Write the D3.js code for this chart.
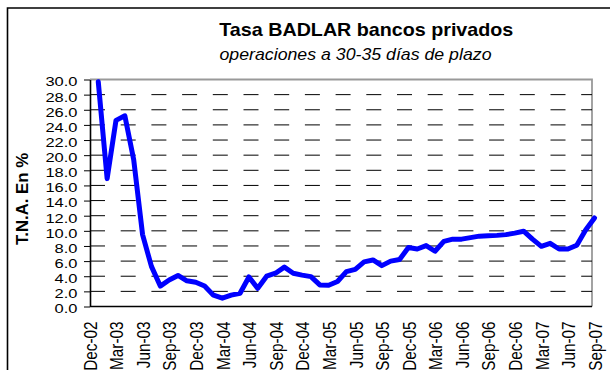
<!DOCTYPE html>
<html>
<head>
<meta charset="utf-8">
<script src="https://cdn.jsdelivr.net/npm/d3@7"></script>
<style>
  html, body { margin: 0; padding: 0; background: #fff; }
  svg { display: block; }
  text { font-family: "Liberation Sans", Arial, sans-serif; fill: #000; }
</style>
</head>
<body>
<svg id="chart" width="610" height="370"></svg>
<script>
// Monthly BADLAR rate (private banks), % TNA, Jan-03 .. Sep-07
const rates = [29.7, 16.9, 24.6, 25.2, 19.4, 9.5, 5.3, 2.7, 3.5, 4.1,
               3.4, 3.2, 2.7, 1.5, 1.1, 1.5, 1.75, 3.9, 2.4, 4.0,
               4.4, 5.2, 4.4, 4.15, 3.95, 2.85, 2.8, 3.3, 4.6, 4.9,
               5.9, 6.15, 5.4, 6.0, 6.2, 7.8, 7.6, 8.05, 7.3, 8.6,
               8.9, 8.9, 9.1, 9.3, 9.35, 9.4, 9.5, 9.7, 9.95, 8.9,
               7.95, 8.35, 7.6, 7.6, 8.1, 10.1, 11.7];
const tickLabels = ["Dec-02","Mar-03","Jun-03","Sep-03","Dec-03","Mar-04","Jun-04",
                    "Sep-04","Dec-04","Mar-05","Jun-05","Sep-05","Dec-05","Mar-06",
                    "Jun-06","Sep-06","Dec-06","Mar-07","Jun-07","Sep-07"];
const yTicks = [0, 2, 4, 6, 8, 10, 12, 14, 16, 18, 20, 22, 24, 26, 28, 30];
const title = "Tasa BADLAR bancos privados";
const subtitle = "operaciones a 30-35 días de plazo";
const yTitle = "T.N.A. En %";

const fmtMonth = d3.timeFormat("%b-%y");
const months = d3.timeMonth.range(new Date(2002, 11, 1), new Date(2007, 9, 1)).map(fmtMonth);
const series = rates.map((v, i) => ({ m: months[i + 1], v }));

const svg = d3.select("#chart");
const plot = { left: 90, right: 592, top: 79.5, bottom: 306.5 };

const x = d3.scalePoint().domain(months).range([89.4, 594.5]);
const y = d3.scaleLinear().domain([0, 30]).range([plot.bottom, plot.top]);

// outer chart frame
svg.append("path")
  .attr("d", `M7.5,372 V8 H612`)
  .attr("fill", "none").attr("stroke", "#000").attr("stroke-width", 1.6);

// plot area border (top and right)
svg.append("path")
  .attr("d", `M${plot.left},${plot.top} H${plot.right} V${plot.bottom}`)
  .attr("fill", "none").attr("stroke", "#999").attr("stroke-width", 1.8);

// dashed horizontal gridlines
svg.append("g").selectAll("line")
  .data(yTicks.filter(t => t > 0 && t < 30))
  .join("line")
  .attr("x1", plot.left).attr("x2", plot.right)
  .attr("y1", d => y(d)).attr("y2", d => y(d))
  .attr("stroke", "#000").attr("stroke-width", 1)
  .attr("stroke-dasharray", "15,15.7");

// y axis
const yAxis = svg.append("g")
  .attr("transform", `translate(${plot.left},0)`)
  .call(d3.axisLeft(y).tickValues(yTicks).tickFormat(d3.format(".1f")).tickSize(6).tickSizeOuter(0));
yAxis.select(".domain").attr("stroke", "#000").attr("stroke-width", 1.6);
yAxis.selectAll(".tick line").attr("stroke", "#000").attr("stroke-width", 1);
yAxis.selectAll(".tick text")
  .attr("x", null).attr("dy", null)
  .attr("font-size", 13.5)
  .attr("text-anchor", "end")
  .attr("dominant-baseline", "central")
  .attr("transform", "translate(-12.5,1.5) scale(1.22,1)");

// x axis
const xAxis = svg.append("g")
  .attr("transform", `translate(0,${plot.bottom})`)
  .call(d3.axisBottom(x).tickValues(tickLabels).tickSize(0).tickSizeOuter(0));
xAxis.select(".domain")
  .attr("d", `M${plot.left},0 H${plot.right}`)
  .attr("stroke", "#000").attr("stroke-width", 1.6);
xAxis.selectAll(".tick text")
  .attr("x", null).attr("y", null).attr("dy", null)
  .attr("font-size", 15.3)
  .attr("text-anchor", "end")
  .attr("dominant-baseline", "central")
  .attr("transform", "translate(0.8,15) scale(1.2,1) rotate(-90)");

// rate line
svg.append("path")
  .datum(series)
  .attr("fill", "none")
  .attr("stroke", "#0000ff")
  .attr("stroke-width", 5)
  .attr("stroke-linejoin", "round")
  .attr("stroke-linecap", "round")
  .attr("d", d3.line().x(d => x(d.m)).y(d => y(d.v)));

// titles
svg.append("text")
  .attr("x", 366.3).attr("y", 36)
  .attr("text-anchor", "middle")
  .attr("font-size", 18.5).attr("font-weight", "bold")
  .attr("textLength", 294).attr("lengthAdjust", "spacingAndGlyphs")
  .text(title);
svg.append("text")
  .attr("x", 355.5).attr("y", 60)
  .attr("text-anchor", "middle")
  .attr("font-size", 16.5).attr("font-style", "italic")
  .attr("textLength", 272).attr("lengthAdjust", "spacingAndGlyphs")
  .text(subtitle);

// y axis title
svg.append("text")
  .attr("transform", "translate(21.5,199) scale(1.15,1) rotate(-90)")
  .attr("text-anchor", "middle")
  .attr("dominant-baseline", "central")
  .attr("font-size", 15).attr("font-weight", "bold")
  .attr("textLength", 92).attr("lengthAdjust", "spacingAndGlyphs")
  .text(yTitle);
</script>
</body>
</html>
